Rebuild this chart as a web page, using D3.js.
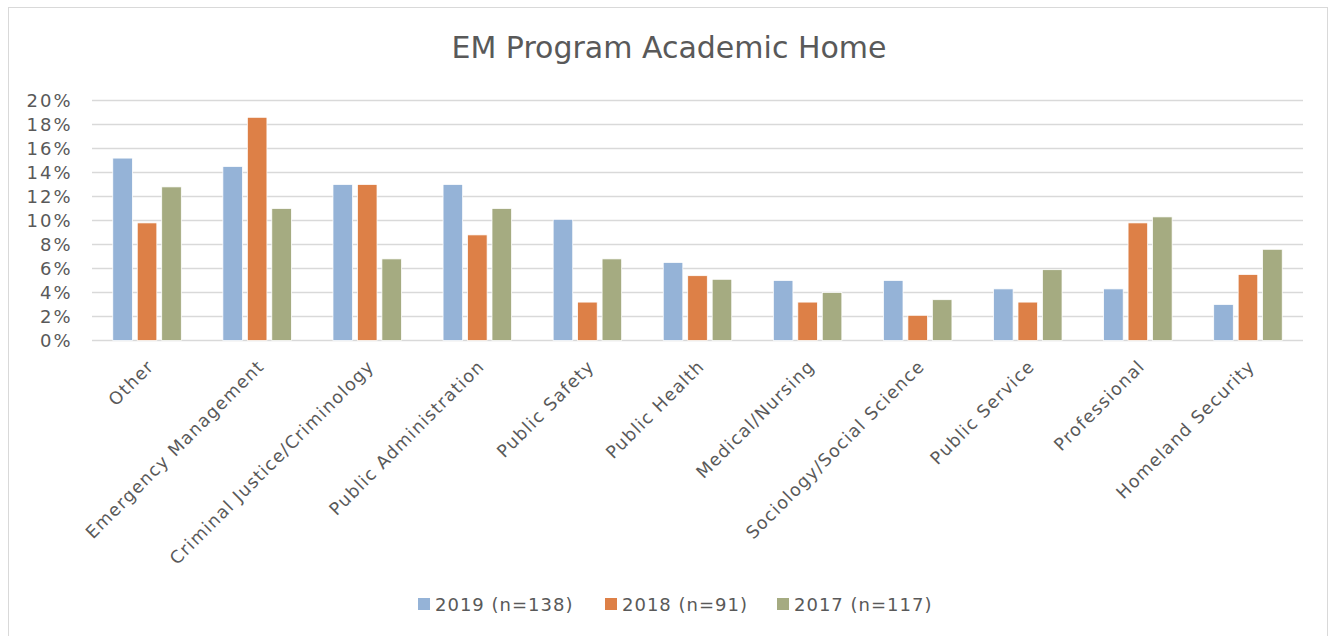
<!DOCTYPE html>
<html>
<head>
<meta charset="utf-8">
<script src="https://cdn.jsdelivr.net/npm/d3@7"></script>
<style>
  body { margin: 0; background: #fff; }
  text { font-family: "Century Gothic", "DejaVu Sans", sans-serif; fill: #595959; }
</style>
</head>
<body>
<div id="container"></div>
<script>
/* DATA */
const categories = ["Other", "Emergency Management", "Criminal Justice/Criminology",
  "Public Administration", "Public Safety", "Public Health", "Medical/Nursing",
  "Sociology/Social Science", "Public Service", "Professional", "Homeland Security"];
const seriesNames = ["2019 (n=138)", "2018 (n=91)", "2017 (n=117)"];
const v2019 = [15.2, 14.5, 13.0, 13.0, 10.1, 6.5, 5.0, 5.0, 4.3, 4.3, 3.0];
const v2018 = [9.8, 18.6, 13.0, 8.8, 3.2, 5.4, 3.2, 2.1, 3.2, 9.8, 5.5];
const v2017 = [12.8, 11.0, 6.8, 11.0, 6.8, 5.1, 4.0, 3.4, 5.9, 10.3, 7.6];
const yTicks = [0, 2, 4, 6, 8, 10, 12, 14, 16, 18, 20];
const colors = ["#95b3d7", "#dd8047", "#a5ab81"];

/* CONSTANTS */
const width = 1333, height = 636,
  margin = {top: 100, bottom: 295, left: 92, right: 30};

const series = [v2019, v2018, v2017];

const svg = d3.select("#container")
  .append("svg")
  .attr("width", width)
  .attr("height", height)

// chart border
svg.append("rect")
  .attr("x", 8.5).attr("y", 7.5)
  .attr("width", 1319).attr("height", 640)
  .attr("fill", "none")
  .attr("stroke", "#d9d9d9")

// SCALES
const xScale = d3.scaleBand()
  .domain(categories)
  .range([margin.left, width - margin.right])

const xInner = d3.scaleBand()
  .domain(d3.range(3))
  .range([0, 68.5])
  .paddingInner(0.2)

const yScale = d3.scaleLinear()
  .domain([0, 20])
  .range([height - margin.bottom - 0.5, margin.top + 0.5])

// GRIDLINES
svg.append("g")
  .selectAll("line")
  .data(yTicks)
  .join("line")
  .attr("x1", margin.left)
  .attr("x2", width - margin.right)
  .attr("y1", d => yScale(d))
  .attr("y2", d => yScale(d))
  .attr("stroke", "#d9d9d9")
  .attr("stroke-width", 1.5)

// Y AXIS
const yAxis = d3.axisLeft(yScale)
  .tickValues(yTicks)
  .tickFormat(d => d + "%")
  .tickSize(0)
  .tickPadding(19.5)

const yAxisGroup = svg.append("g")
  .attr("transform", `translate(${margin.left}, 0)`)
  .call(yAxis)
yAxisGroup.select(".domain").remove()
yAxisGroup.selectAll("text")
  .style("font-size", "18px")
  .style("font-family", '"Century Gothic", "DejaVu Sans", sans-serif')
  .style("letter-spacing", "2px")
  .attr("fill", "#595959")

// BARS
const groups = svg.append("g")
  .selectAll("g")
  .data(categories)
  .join("g")
  .attr("transform", d => `translate(${xScale(d) + (xScale.bandwidth() - 68.5) / 2}, 0)`)

groups.selectAll("rect")
  .data((d, i) => series.map((s, j) => ({j, v: s[i]})))
  .join("rect")
  .attr("x", d => xInner(d.j))
  .attr("width", xInner.bandwidth())
  .attr("y", d => yScale(d.v))
  .attr("height", d => yScale(0) - yScale(d.v))
  .attr("fill", d => colors[d.j])
  .attr("stroke", "#fff")
  .attr("stroke-width", 0.75)

// X LABELS
svg.append("g")
  .selectAll("text")
  .data(categories)
  .join("text")
  .attr("transform", d => `translate(${xScale(d) + xScale.bandwidth() / 2 + 8}, ${yScale(0) + 27}) rotate(-45)`)
  .attr("text-anchor", "end")
  .style("font-size", "17.5px")
  .style("letter-spacing", "1.2px")
  .text(d => d)

// TITLE
svg.append("text")
  .attr("x", 669)
  .attr("y", 58)
  .attr("text-anchor", "middle")
  .style("font-size", "30px")
  .text("EM Program Academic Home")

// LEGEND
const legendX = [418, 605, 777];
const legend = svg.append("g")
  .selectAll("g")
  .data(seriesNames)
  .join("g")
  .attr("transform", (d, i) => `translate(${legendX[i]}, 604)`)

legend.append("rect")
  .attr("x", 0).attr("y", -6)
  .attr("width", 12).attr("height", 12)
  .attr("fill", (d, i) => colors[i])

legend.append("text")
  .attr("x", 17)
  .attr("y", 7)
  .style("font-size", "18px")
  .style("letter-spacing", "1px")
  .text(d => d)
</script>
</body>
</html>
